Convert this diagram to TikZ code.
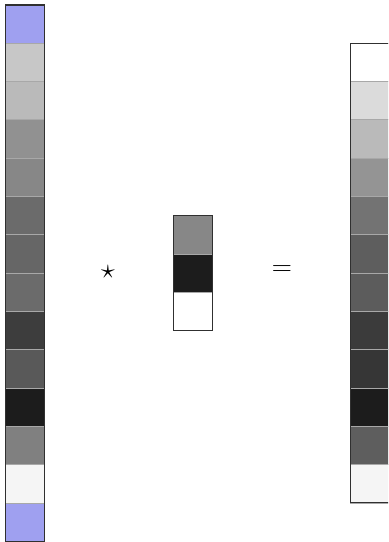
\documentclass[tikz,border=0pt]{standalone}
\usepackage{amsmath,amssymb}
\usepackage{xcolor}
\definecolor{SigPad}{HTML}{9FA0F0}
\definecolor{SigFrame}{HTML}{303030}
\definecolor{SigRule}{HTML}{A8A8A8}
\usetikzlibrary{positioning,fit}
\tikzset{
  cell/.style={draw=SigRule,line width=0.6pt,minimum size=1cm,inner sep=0pt,outer sep=0pt},
  frame/.style={draw=SigFrame,line width=0.8pt,inner sep=0pt},
  op/.style={font=\huge,inner sep=0pt}
}

\begin{document}
\begin{tikzpicture}
  \clip (0,0) rectangle (10.13,-14.15);
  % padded input signal
  \foreach \v [count=\i] in {-1,78,73,57,53,42,40,42,24,35,11,50,96,-1}{
    \ifnum\v<0
      \node[cell,fill=SigPad] (in\i) at (0.65,{-0.63-(\i-1)}) {};
    \else
      \node[cell,fill=white!\v!black] (in\i) at (0.65,{-0.63-(\i-1)}) {};
    \fi
  }
  \node[frame,fit=(in1)(in14)] (input) {};
  % kernel
  \foreach \v [count=\i] in {53,11,100}
    \node[cell,fill=white!\v!black] (k\i) at (5.04,{-6.13-(\i-1)}) {};
  \node[frame,fit=(k1)(k3)] (kernel) {};
  % output signal
  \foreach \v [count=\i] in {100,86,73,58,45,37,36,23,21,11,37,96}
    \node[cell,fill=white!\v!black] (out\i) at (9.66,{-1.63-(\i-1)}) {};
  \node[frame,fit=(out1)(out12)] (output) {};
  % operators
  \node[op] (conv) at (2.82,-7.10) {$\star$};
  \node[op] (eq) at (7.36,-7.05) {$=$};
\end{tikzpicture}
\end{document}
